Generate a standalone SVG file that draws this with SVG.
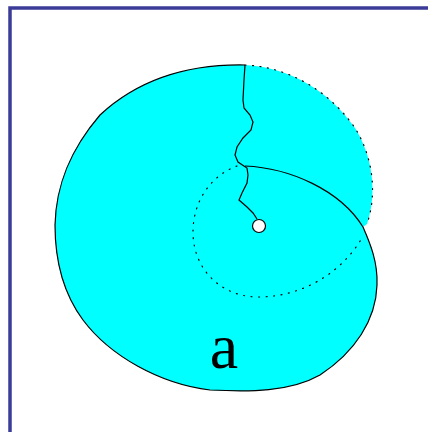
<svg xmlns="http://www.w3.org/2000/svg" width="428" height="432" viewBox="0 0 428 432">
<style>
.solid{fill:none;stroke:#000;stroke-width:1.2}
.dot{fill:none;stroke:#000;stroke-width:1.2;stroke-dasharray:1 6.5;stroke-linecap:round}
</style>
<rect width="428" height="432" fill="#ffffff"/>
<path d="M10,440 V8 H440" fill="none" stroke="#3b3b98" stroke-width="3.5"/>
<g id="shell">
<path d="M245,65 C290,67 330,92 355,128 C372,155 378,192 367,224 L363,227 C370,243 378,262 377,285 C376,320 355,352 320,375 C290,392 250,392 210,390 C160,384 110,356 83,320 C63,293 55,262 55,225 C56,185 70,150 100,115 C140,78 190,64 245,65 Z" fill="#00ffff" stroke="none"/>
<path class="solid" d="M245,166 C290,168 340,190 363,227 C370,243 378,262 377,285 C376,320 355,352 320,375 C290,392 250,392 210,390 C160,384 110,356 83,320 C63,293 55,262 55,225 C56,185 70,150 100,115 C140,78 190,64 245,65"/>
<path class="dot" d="M245,65 C290,67 330,92 355,128 C372,155 378,192 367,224"/>
<path class="dot" d="M237,166 C212,175 193,200 193,232 C193,270 222,297 258,297 C300,297 340,275 362,238"/>
<path class="solid" d="M245,65 L244,80 L243,100 L244,108 L250,115 L253,122 L251,130 L243,138 L237,147 L235,155 L238,162 L247,168 L248,175 L247,183 L242,193 L239,200 L247,207 L253,213 L257,219"/>
<circle cx="259" cy="226" r="6.5" fill="#ffffff" stroke="#000" stroke-width="1.2"/>
<text x="224" y="368" font-family="'Liberation Serif', serif" font-size="64" text-anchor="middle" fill="#000">a</text>
</g>
</svg>
